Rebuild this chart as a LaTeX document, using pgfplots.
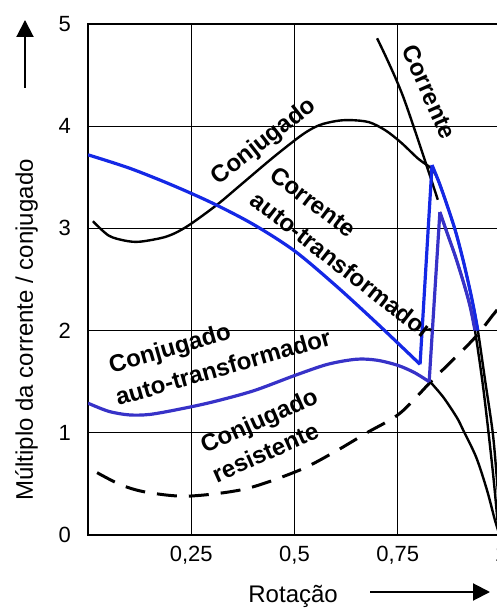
\documentclass[border=0pt]{standalone}
\usepackage{fontspec}
\setmainfont{Liberation Sans}
\usepackage{pgfplots}
\pgfplotsset{compat=1.18}
\usetikzlibrary{arrows.meta}
\definecolor{cblue}{RGB}{20,40,230}
\definecolor{cpurp}{RGB}{55,50,200}
\tikzset{lbl/.style={font=\bfseries\fontsize{12}{14}\selectfont, inner sep=0pt}}
\begin{document}
\begin{tikzpicture}
\begin{axis}[
  at={(0,0)}, anchor=south west, scale only axis,
  width=206.5pt, height=255.5pt,
  xmin=0, xmax=1, ymin=0, ymax=5,
  xtick={0.25,0.5,0.75,1}, xticklabels={{0,25},{0,5},{0,75},1},
  ytick={0,1,2,3,4,5},
  grid=major, major grid style={black, line width=0.55pt},
  major tick length=0pt,
  axis line style={black, line width=0.8pt},
  tick label style={font=\fontsize{11}{13}\selectfont, black},
  /pgf/number format/assume math mode=true,
  xticklabel style={yshift=-2pt},
  yticklabel style={xshift=-5pt},
]
% Conjugado resistente (dashed)
\addplot[black, line width=1.5pt, dash pattern=on 10pt off 6pt, smooth] coordinates {
(0.022,0.61) (0.08,0.49) (0.14,0.42) (0.24,0.38) (0.38,0.45) (0.513,0.636)
(0.60,0.82) (0.675,1.0) (0.755,1.19) (0.835,1.52) (0.932,1.91) (0.98,2.15) (1.0,2.25)};
% Conjugado (black)
\addplot[black, line width=1.2pt, smooth] coordinates {
(0.012,3.07) (0.05,2.93) (0.09,2.88) (0.126,2.87) (0.19,2.92) (0.24,3.02)
(0.312,3.23) (0.368,3.42) (0.45,3.7) (0.52,3.92) (0.56,4.01) (0.60,4.05)
(0.634,4.06) (0.68,4.04) (0.72,3.96) (0.758,3.84) (0.80,3.68) (0.833,3.58)
(0.85,3.45) (0.87,3.22) (0.89,2.97) (0.91,2.66) (0.93,2.3) (0.944,2.0) (0.962,1.5) (0.98,1.0) (0.99,0.55) (0.998,0.12)};
% Corrente (black)
\addplot[black, line width=1.2pt, smooth] coordinates {
(0.70,4.86) (0.763,4.29) (0.847,3.28)};
% continuation under inner curve
\addplot[black, line width=1.2pt, smooth] coordinates {
(0.852,3.16) (0.87,2.95) (0.89,2.72) (0.91,2.46) (0.925,2.24) (0.937,2.0) (0.955,1.5) (0.969,1.03) (0.982,0.55) (0.992,0.12)};
% conjugado auto-transformador continuation (black)
\addplot[black, line width=1.2pt, smooth] coordinates {
(0.826,1.51) (0.86,1.35) (0.893,1.15) (0.908,1.03) (0.94,0.76) (0.966,0.44) (0.985,0.15) (0.995,0.02)};
% Corrente auto-transformador (blue)
\addplot[cblue, line width=1.6pt, smooth] coordinates {
(0,3.72) (0.1,3.59) (0.2,3.43) (0.3,3.25) (0.4,3.04) (0.5,2.78) (0.6,2.44) (0.7,2.07) (0.804,1.67)};
\addplot[cblue, line width=1.6pt] coordinates {(0.804,1.67) (0.833,3.62)};
\addplot[cblue, line width=1.6pt, smooth] coordinates {
(0.833,3.62) (0.85,3.45) (0.87,3.22) (0.89,2.97) (0.91,2.66) (0.93,2.3) (0.944,2.0)};
% Conjugado auto-transformador (purple-blue)
\addplot[cpurp, line width=1.6pt, smooth] coordinates {
(0,1.29) (0.05,1.21) (0.1,1.175) (0.15,1.18) (0.22,1.23) (0.3,1.3) (0.4,1.41)
(0.5,1.56) (0.58,1.67) (0.65,1.72) (0.7,1.71) (0.75,1.66) (0.79,1.59) (0.826,1.5)};
\addplot[cpurp, line width=1.6pt] coordinates {(0.826,1.5) (0.852,3.16)};
\addplot[cpurp, line width=1.6pt, smooth] coordinates {
(0.852,3.16) (0.87,2.95) (0.89,2.72) (0.91,2.46) (0.925,2.24) (0.937,2.0)};
% labels
\node[lbl, rotate=38] at (axis cs:0.426,3.845) {Conjugado};
\node[lbl, rotate=-66] at (axis cs:0.826,4.335) {Corrente};
\node[lbl, rotate=-37] at (axis cs:0.545,3.26) {Corrente};
\node[lbl, rotate=-38] at (axis cs:0.615,2.64) {auto-transformador};
\node[lbl, rotate=16] at (axis cs:0.199,1.81) {Conjugado};
\node[lbl, rotate=16] at (axis cs:0.327,1.644) {auto-transformador};
\node[lbl, rotate=24] at (axis cs:0.416,1.106) {Conjugado};
\node[lbl, rotate=24] at (axis cs:0.429,0.81) {resistente};
\end{axis}
\draw[line width=1pt, -{Triangle[length=8.5pt,width=8.5pt]}] (-31.5pt,223.5pt) -- (-31.5pt,257.5pt);
\node[rotate=90, anchor=base, font=\fontsize{12}{14}\selectfont, inner sep=0pt] at (-27.5pt,102.5pt) {Múltiplo da corrente / conjugado};
\node[anchor=base west, font=\fontsize{12}{14}\selectfont, inner sep=0pt] at (80pt,-33.5pt) {Rotação};
\draw[line width=1pt, -{Triangle[length=8.5pt,width=8.5pt]}] (141pt,-28.5pt) -- (201pt,-28.5pt);
\pgfresetboundingbox
\path[use as bounding box] (-44pt,-36.5pt) rectangle (204pt,267.5pt);
\end{tikzpicture}
\end{document}
